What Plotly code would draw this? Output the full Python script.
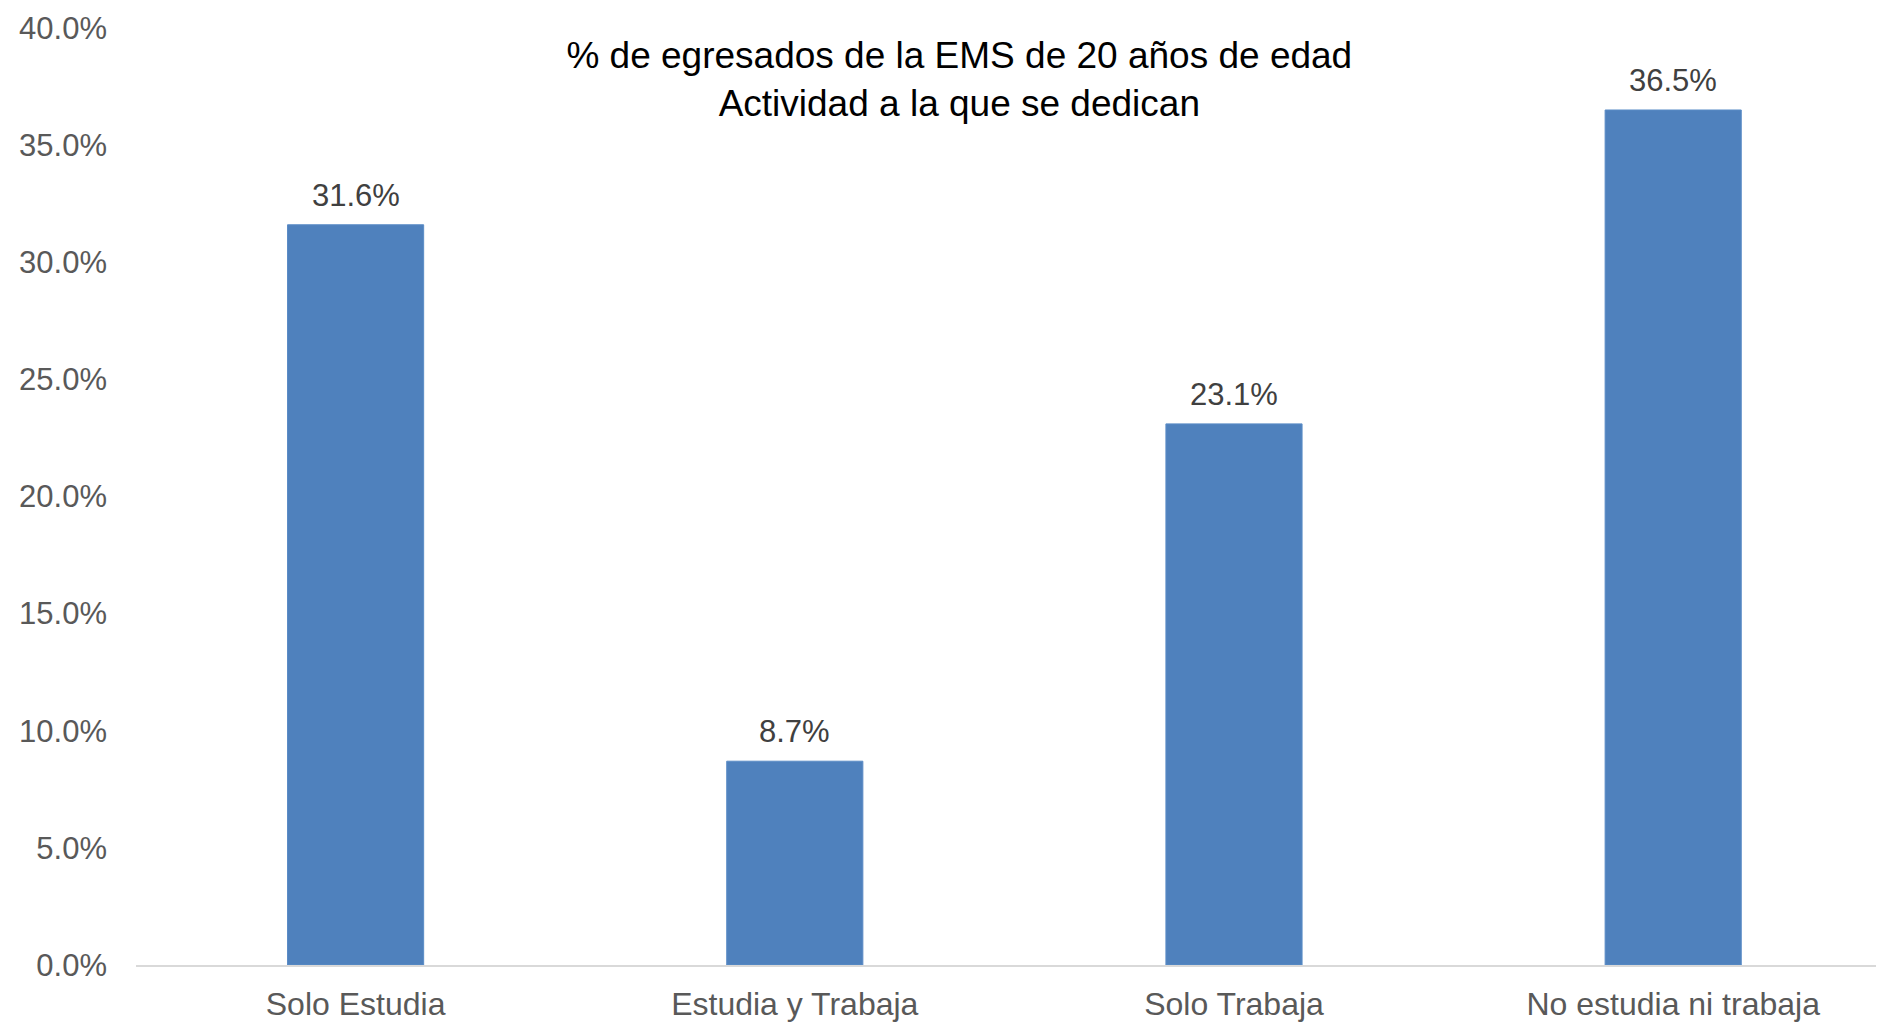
import plotly.graph_objects as go

categories = ["Solo Estudia", "Estudia y Trabaja", "Solo Trabaja", "No estudia ni trabaja"]
values = [0.316, 0.087, 0.231, 0.365]
value_labels = ["31.6%", "8.7%", "23.1%", "36.5%"]
title_lines = ["% de egresados de la EMS de 20 años de edad", "Actividad a la que se dedican"]

FONT = "Liberation Sans, Arial, sans-serif"

fig = go.Figure()
fig.add_trace(go.Bar(
    x=categories,
    y=values,
    width=0.31,
    marker=dict(color="#4f81bd", line=dict(color="#5b8cc6", width=1)),
    hoverinfo="x+y",
))

for c, v, t in zip(categories, values, value_labels):
    fig.add_annotation(
        x=c, y=v, text=t, showarrow=False,
        yanchor="bottom", yshift=10,
        font=dict(family=FONT, size=31, color="#404040"),
    )

fig.update_layout(
    width=1876, height=1014,
    margin=dict(l=128, r=0, t=20, b=55),
    paper_bgcolor="white", plot_bgcolor="white",
    showlegend=False,
    title=dict(
        text="<br>".join(title_lines),
        x=0.5071, xanchor="center",
        y=0.941, yanchor="top", yref="container",
        font=dict(family=FONT, size=37, color="#000000"),
    ),
    font=dict(family=FONT),
)
fig.update_xaxes(
    range=[-0.5, 3.48],
    showgrid=False, zeroline=False,
    showline=True, linecolor="#d9d9d9", linewidth=2,
    ticks="",
    ticklabelstandoff=10,
    tickfont=dict(family=FONT, size=32, color="#595959"),
)
fig.update_yaxes(
    range=[0, 0.4],
    tickvals=[0, 0.05, 0.10, 0.15, 0.20, 0.25, 0.30, 0.35, 0.40],
    tickformat=".1%",
    showgrid=False, zeroline=False, showline=False,
    ticks="",
    ticklabelstandoff=28,
    tickfont=dict(family=FONT, size=31, color="#595959"),
)

fig.write_html("out.html")
